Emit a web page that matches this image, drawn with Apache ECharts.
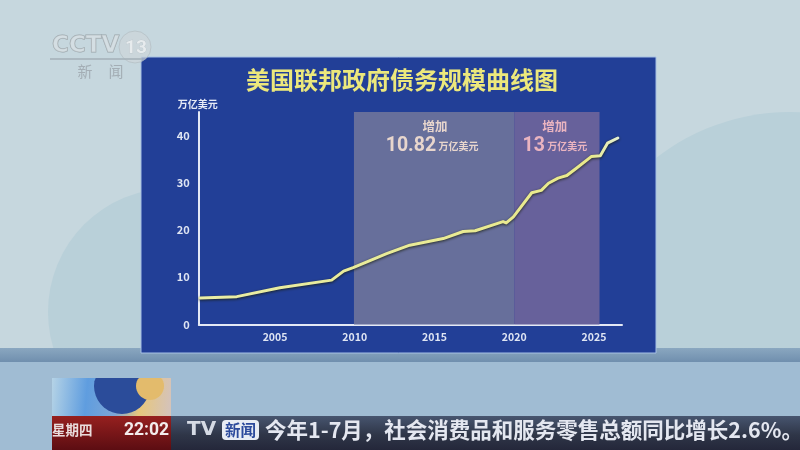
<!DOCTYPE html>
<html>
<head>
<meta charset="utf-8">
<style>
  html, body { margin: 0; padding: 0; background: #c6d7de; }
  #chart1 { width: 800px; height: 450px; }
</style>
<script src="https://cdn.jsdelivr.net/npm/echarts@6/dist/echarts.min.js"></script>
</head>
<body>
<div id="chart1"></div>
<script>
const years = [2000.3, 2002.6, 2005.3, 2008.55, 2009.3, 2009.9, 2012, 2013.45, 2015.55, 2016.8, 2017.55,
  2019.3, 2019.5, 2019.95, 2021.1, 2021.7, 2022.15, 2022.75, 2023.3, 2023.9, 2024.85, 2025.4, 2025.85, 2026.5];
const debt = [5.6, 5.9, 7.8, 9.4, 11.3, 12.05, 15, 16.8, 18.2, 19.7, 19.85,
  21.8, 21.5, 22.8, 27.9, 28.4, 29.9, 31, 31.55, 33.1, 35.6, 35.75, 38.4, 39.5];
const xTicks = [2005, 2010, 2015, 2020, 2025];
const yTicks = [0, 10, 20, 30, 40];
const spanA = [2009.95, 2020];
const spanB = [2020, 2025.35];
const title = '美国联邦政府债务规模曲线图';
const unit = '万亿美元';
const gainA = '10.82';
const gainB = '13';
const ticker = '今年1-7月，社会消费品和服务零售总额同比增长2.6%。';

const cjk = '"Noto Sans CJK SC", "Noto Sans", sans-serif';
const chart1 = echarts.init(document.getElementById('chart1'));

function gainLabel(value) {
  return '{head|增加}\n{big|' + value + '}{small| ' + unit + '}';
}
function gainRich(color, headPad) {
  return {
    head: { fontFamily: cjk, fontSize: 12.5, fontWeight: 'bold', color: color, lineHeight: 20, align: 'center', padding: [0, 0, 0, headPad] },
    big: { fontFamily: 'Roboto, sans-serif', fontSize: 19.5, fontWeight: 'bold', color: color },
    small: { fontFamily: cjk, fontSize: 10, fontWeight: 'bold', color: color }
  };
}

// rough globe outline for the corner thumbnail, cut to the thumbnail box
function globePoints(cx, cy, r) {
  const pts = [];
  for (let a = 0; a < 360; a += 10) {
    const x = cx + r * Math.cos(a * Math.PI / 180);
    const y = cy + r * Math.sin(a * Math.PI / 180);
    pts.push([Math.min(171, Math.max(52, x)), Math.min(416, Math.max(378, y))]);
  }
  return pts;
}

const option = {
  animation: false,
  backgroundColor: '#c6d7de',
  grid: { left: 198.8, right: 178, top: 112, bottom: 125.5 },
  xAxis: {
    type: 'value',
    min: 2000.22,
    max: 2026.76,
    splitLine: { show: false },
    axisLine: { show: true, lineStyle: { color: '#e4e9f5', width: 2 } },
    axisTick: { show: false },
    axisLabel: {
      customValues: xTicks,
      color: '#dfe5f3',
      fontFamily: cjk,
      fontSize: 10.5,
      fontWeight: 'bold',
      margin: 7,
      formatter: v => String(v)
    }
  },
  yAxis: {
    type: 'value',
    min: 0,
    max: 45,
    name: unit,
    nameLocation: 'end',
    nameGap: 3,
    nameTextStyle: { color: '#e6eaf6', fontFamily: cjk, fontSize: 10, fontWeight: 'bold', align: 'center', padding: [0, 0, 0, -2] },
    splitLine: { show: false },
    axisLine: { show: true, lineStyle: { color: '#e4e9f5', width: 2 } },
    axisTick: { show: false },
    axisLabel: {
      customValues: yTicks,
      color: '#dfe5f3',
      fontFamily: cjk,
      fontSize: 11,
      fontWeight: 'bold',
      margin: 9
    }
  },
  series: [{
    type: 'line',
    data: years.map((y, i) => [y, debt[i]]),
    symbol: 'none',
    z: 5,
    lineStyle: {
      width: 3,
      join: 'round',
      cap: 'round',
      shadowColor: 'rgba(25,30,15,0.85)',
      shadowBlur: 3,
      shadowOffsetY: 1,
      color: {
        type: 'linear', x: 0, y: 0, x2: 1, y2: 0,
        colorStops: [{ offset: 0, color: '#e9eda6' }, { offset: 0.93, color: '#e9e98a' }, { offset: 1, color: '#e4f0d8' }]
      }
    },
    markArea: {
      silent: true,
      data: [
        [{
          xAxis: spanA[0],
          itemStyle: { color: '#676f9b', opacity: 1 },
          label: { show: true, position: 'insideTop', distance: 4, offset: [-2, 0], formatter: gainLabel(gainA), rich: gainRich('#e8d6cd', 6) }
        }, { xAxis: spanA[1] }],
        [{
          xAxis: spanB[0],
          itemStyle: { color: '#67619b', opacity: 1 },
          label: { show: true, position: 'insideTop', distance: 4, offset: [-2, 0], formatter: gainLabel(gainB), rich: gainRich('#eab4c0', 0) }
        }, { xAxis: spanB[1] }]
      ]
    }
  }],
  graphic: [
    // hills behind the panel
    { type: 'circle', silent: true, z: -10, shape: { cx: 790, cy: 330, r: 218 }, style: { fill: '#b9d0d9' } },
    { type: 'circle', silent: true, z: -10, shape: { cx: 172, cy: 312, r: 124 }, style: { fill: '#b9d0d9' } },
    // floor
    { type: 'rect', silent: true, z: -9, shape: { x: 0, y: 348, width: 800, height: 14 }, style: {
      fill: { type: 'linear', x: 0, y: 0, x2: 0, y2: 1, colorStops: [{ offset: 0, color: '#8aa7c0' }, { offset: 1, color: '#708fae' }] }
    } },
    { type: 'rect', silent: true, z: -9, shape: { x: 0, y: 362, width: 800, height: 88 }, style: { fill: '#a0bcd3' } },
    // panel
    { type: 'rect', silent: true, z: -5, shape: { x: 141, y: 57, width: 515, height: 296 }, style: { fill: '#223f97', stroke: '#a5c0e4', lineWidth: 1 } },
    { type: 'text', silent: true, z: 6, x: 402, y: 80, style: {
      text: title, fill: '#ece87c', fontFamily: cjk, fontSize: 24, fontWeight: 'bold',
      align: 'center', verticalAlign: 'middle', shadowColor: 'rgba(20,20,20,0.8)', shadowBlur: 3, shadowOffsetY: 1
    } },
    // station logo
    { type: 'circle', silent: true, z: 5, shape: { cx: 135, cy: 47, r: 16 }, style: { fill: 'rgba(205,214,218,0.7)', stroke: 'rgba(175,185,190,0.6)' } },
    { type: 'text', silent: true, z: 6, x: 52, y: 46, style: {
      text: 'CCTV', fill: 'rgba(225,230,232,0.5)', stroke: 'rgba(150,160,165,0.9)', lineWidth: 1,
      fontFamily: '"DejaVu Sans", sans-serif', fontSize: 23, fontWeight: 'bold', align: 'left', verticalAlign: 'middle'
    } },
    { type: 'text', silent: true, z: 6, x: 136, y: 48, style: {
      text: '13', fill: 'rgba(232,236,238,0.95)', stroke: 'rgba(170,180,185,0.7)', lineWidth: 0.5,
      fontFamily: 'Roboto, sans-serif', fontSize: 19, fontWeight: 'bold', align: 'center', verticalAlign: 'middle'
    } },
    { type: 'rect', silent: true, z: 5, shape: { x: 50, y: 58, width: 92, height: 2 }, style: { fill: 'rgba(165,177,185,0.8)' } },
    { type: 'text', silent: true, z: 6, x: 85, y: 71, style: {
      text: '新', fill: 'rgba(160,170,176,0.9)', fontFamily: cjk, fontSize: 15, align: 'center', verticalAlign: 'middle'
    } },
    { type: 'text', silent: true, z: 6, x: 116, y: 71, style: {
      text: '闻', fill: 'rgba(160,170,176,0.9)', fontFamily: cjk, fontSize: 15, align: 'center', verticalAlign: 'middle'
    } },
    // ticker bar
    { type: 'rect', silent: true, z: 10, shape: { x: 171, y: 416, width: 629, height: 34 }, style: {
      fill: { type: 'linear', x: 0, y: 0, x2: 0, y2: 1, colorStops: [{ offset: 0, color: '#47556f' }, { offset: 0.55, color: '#2f3648' }, { offset: 1, color: '#24273a' }] }
    } },
    // thumbnail
    { type: 'rect', silent: true, z: 11, shape: { x: 52, y: 378, width: 119, height: 38 }, style: {
      fill: { type: 'linear', x: 0, y: 0, x2: 1, y2: 0.3, colorStops: [
        { offset: 0, color: '#b5d3e6' }, { offset: 0.3, color: '#5f9ddf' }, { offset: 0.55, color: '#7da6d6' },
        { offset: 0.75, color: '#e7c77c' }, { offset: 1, color: '#d5c3b8' }] }
    } },
    { type: 'polygon', silent: true, z: 12, shape: { points: globePoints(122, 386, 28) }, style: { fill: '#2b4c9a' } },
    { type: 'polygon', silent: true, z: 13, shape: { points: globePoints(150, 386, 14) }, style: { fill: '#e3bb6c' } },
    { type: 'rect', silent: true, z: 11, shape: { x: 52, y: 416, width: 119, height: 34 }, style: {
      fill: { type: 'linear', x: 0, y: 0, x2: 0, y2: 1, colorStops: [{ offset: 0, color: '#96201f' }, { offset: 1, color: '#5c0d12' }] }
    } },
    { type: 'text', silent: true, z: 12, x: 52, y: 430, style: {
      text: '星期四', fill: '#e9dcdc', fontFamily: cjk, fontSize: 13.5, fontWeight: 'bold', align: 'left', verticalAlign: 'middle'
    } },
    { type: 'text', silent: true, z: 12, x: 169, y: 431, style: {
      text: '22:02', fill: '#f3ecec', fontFamily: 'Roboto, sans-serif', fontSize: 17.5, fontWeight: 'bold', align: 'right', verticalAlign: 'middle'
    } },
    { type: 'text', silent: true, z: 12, x: 187, y: 430, style: {
      text: 'TV', fill: '#d5dae4', fontFamily: '"DejaVu Sans", sans-serif', fontSize: 20, fontWeight: 'bold', align: 'left', verticalAlign: 'middle'
    } },
    { type: 'rect', silent: true, z: 12, shape: { x: 222, y: 420, width: 37, height: 20, r: 4 }, style: { fill: '#e8ecf4' } },
    { type: 'text', silent: true, z: 13, x: 240.5, y: 430, style: {
      text: '新闻', fill: '#2c4a9c', fontFamily: cjk, fontSize: 15.5, fontWeight: 'bold', align: 'center', verticalAlign: 'middle'
    } },
    { type: 'text', silent: true, z: 12, x: 265, y: 430, style: {
      text: ticker, fill: '#e4e7f0', fontFamily: cjk, fontSize: 21.5, fontWeight: 'bold', align: 'left', verticalAlign: 'middle'
    } }
  ]
};

chart1.setOption(option);
</script>
</body>
</html>
